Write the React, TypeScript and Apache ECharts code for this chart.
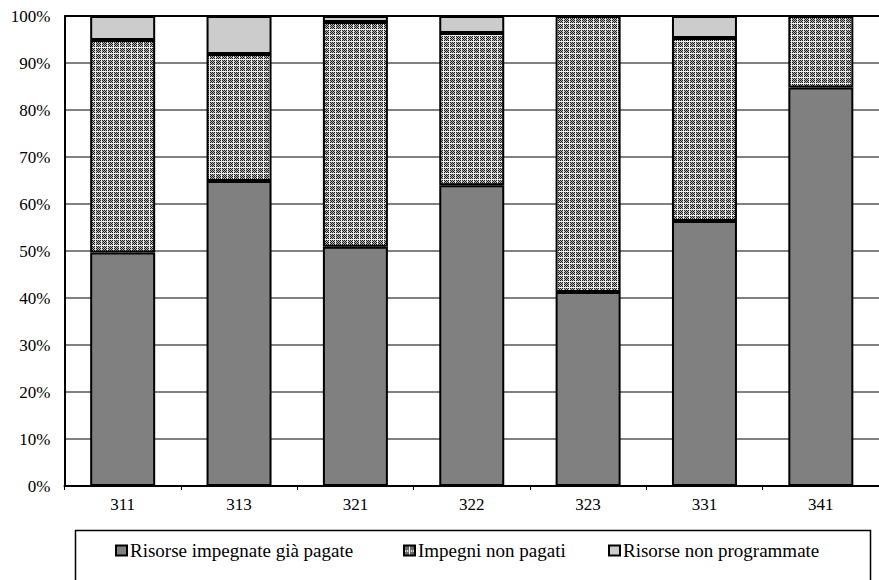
import React, { useEffect, useRef } from "react";
import * as echarts from "echarts";

const categories = ["311", "313", "321", "322", "323", "331", "341"];
const seriesNames = ["Risorse impegnate già pagate", "Impegni non pagati", "Risorse non programmate"];
const paid = [49.7, 64.9, 50.9, 64.0, 41.3, 56.4, 84.8];
const unpaid = [45.2, 27.0, 47.8, 32.4, 58.7, 38.9, 15.2];
const unprogrammed = [5.1, 8.1, 1.3, 3.6, 0, 4.7, 0];
const yTicks = [0, 10, 20, 30, 40, 50, 60, 70, 80, 90, 100];

const FONT = "serif";

function makePattern(): string {
  const c = document.createElement("canvas");
  c.width = 6;
  c.height = 6;
  const ctx = c.getContext("2d")!;
  ctx.fillStyle = "#eeeeee";
  ctx.fillRect(0, 0, 6, 6);
  for (let x = 0; x < 5; x++) {
    for (let y = 0; y < 5; y++) {
      ctx.fillStyle = (x + y) % 2 === 0 ? "#1e1e1e" : "#b4b4b4";
      ctx.fillRect(x, y, 1, 1);
    }
  }
  return c.toDataURL();
}

export default function App() {
  const ref = useRef<HTMLDivElement>(null);
  useEffect(() => {
    document.body.style.margin = "0";
    const chart = echarts.init(ref.current!, undefined, { renderer: "svg" });
    const pattern = { image: makePattern(), repeat: "repeat" as const };
    const border = { borderColor: "#000", borderWidth: 2 };
    const legendCommon = {
      top: 541,
      itemWidth: 11,
      itemHeight: 10,
      itemGap: 0,
      icon: "rect",
      textStyle: { fontFamily: FONT, fontSize: 19, color: "#000", padding: [0, 0, 0, -2] },
      padding: 0,
    };
    chart.setOption({
      animation: false,
      backgroundColor: "#fff",
      textStyle: { fontFamily: FONT },
      grid: { left: 64.5, right: -7.5, top: 16, bottom: 94, containLabel: false },
      xAxis: {
        type: "category",
        data: categories,
        axisLine: { show: true, lineStyle: { color: "#000", width: 2 } },
        axisTick: { show: true, length: 4, lineStyle: { color: "#000", width: 1 } },
        axisLabel: { fontFamily: FONT, fontSize: 17, color: "#000", margin: 10 },
      },
      yAxis: {
        type: "value",
        min: yTicks[0],
        max: yTicks[yTicks.length - 1],
        interval: 10,
        axisLine: { show: true, lineStyle: { color: "#000", width: 2 } },
        axisTick: { show: false },
        axisLabel: { fontFamily: FONT, fontSize: 17, color: "#000", margin: 14, formatter: "{value}%" },
        splitLine: {
          show: true,
          lineStyle: {
            color: ["#808080", "#808080", "#808080", "#808080", "#808080", "#808080", "#808080", "#808080", "#808080", "#808080", "#000"],
            width: 2,
          },
        },
      },
      legend: [
        { ...legendCommon, left: 115, data: [seriesNames[0]] },
        { ...legendCommon, left: 403, data: [seriesNames[1]] },
        { ...legendCommon, left: 608, data: [seriesNames[2]] },
      ],
      graphic: [
        {
          type: "rect",
          left: 73,
          top: 528,
          shape: { width: 795, height: 70 },
          style: { fill: "none", stroke: "#000", lineWidth: 1.5 },
          silent: true,
          z: -1,
        },
      ],
      series: [
        {
          name: seriesNames[0],
          type: "bar",
          stack: "total",
          barWidth: 65,
          data: paid,
          itemStyle: { color: "#808080", ...border },
        },
        {
          name: seriesNames[1],
          type: "bar",
          stack: "total",
          barWidth: 65,
          data: unpaid,
          itemStyle: { color: pattern, ...border },
        },
        {
          name: seriesNames[2],
          type: "bar",
          stack: "total",
          barWidth: 65,
          data: unprogrammed,
          itemStyle: { color: "#cccccc", ...border },
        },
      ],
    });
    return () => chart.dispose();
  }, []);
  return <div ref={ref} style={{ width: 879, height: 580 }} />;
}
